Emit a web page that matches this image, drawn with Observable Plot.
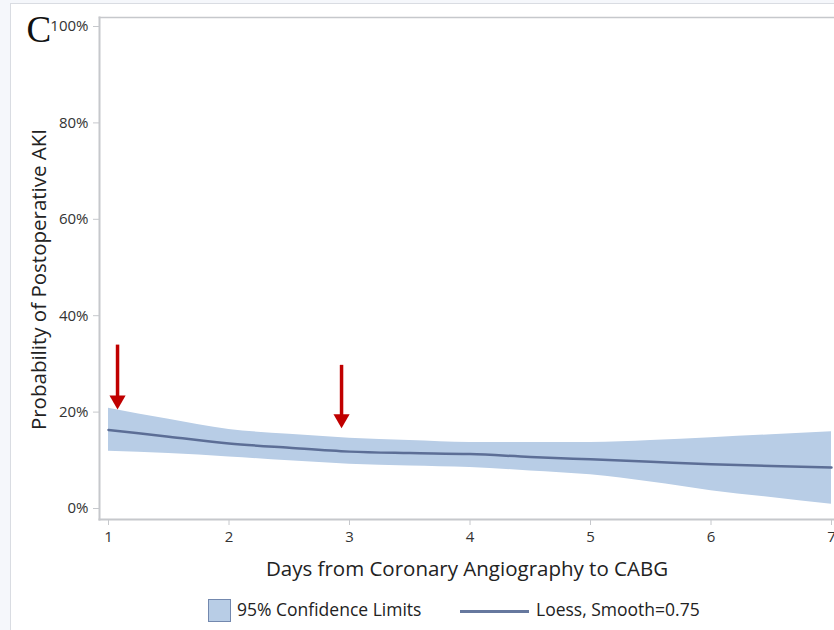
<!DOCTYPE html>
<html>
<head>
<meta charset="utf-8">
<script src="https://cdn.jsdelivr.net/npm/d3@7"></script>
<script src="https://cdn.jsdelivr.net/npm/@observablehq/plot@0.6"></script>
<style>
  html, body { margin: 0; padding: 0; background: #f5f7fb; }
  #page { position: relative; width: 834px; height: 630px; overflow: hidden; font-family: "Open Sans", sans-serif; }
  #panel { position: absolute; left: 10px; top: 3px; width: 840px; height: 640px; background: #fff; border-left: 1px solid #d9dce2; border-top: 1px solid #d9dce2; }
  #chart { position: absolute; left: 0; top: 0; }
  #legend { position: absolute; left: 0; top: 0; width: 834px; height: 630px; pointer-events: none; }
  .sw { position: absolute; left: 208px; top: 599px; width: 21px; height: 21px; background: #b8cde6; border: 1.5px solid #7388ae; }
  .ln { position: absolute; left: 460px; top: 610px; width: 69px; height: 2.5px; background: #66789e; }
  .lt { position: absolute; top: 597px; font-size: 17.5px; color: #222; white-space: nowrap; }
</style>
</head>
<body>
<div id="page">
  <div id="panel"></div>
  <div id="chart"></div>
  <div id="legend">
    <div class="sw"></div><div class="lt" style="left:237px">95% Confidence Limits</div>
    <div class="ln"></div><div class="lt" style="left:536px">Loess, Smooth=0.75</div>
  </div>
</div>
<script>
// Data
const days  = [1, 1.5, 2, 2.5, 3, 3.5, 4, 4.5, 5, 5.5, 6, 6.5, 7];
const loess = [16.3, 14.9, 13.5, 12.6, 11.8, 11.5, 11.3, 10.7, 10.2, 9.7, 9.2, 8.8, 8.5];
const upper = [20.8, 18.5, 16.4, 15.4, 14.6, 14.1, 13.7, 13.7, 13.7, 14.1, 14.7, 15.3, 15.9];
const lower = [11.9, 11.4, 10.7, 9.9, 9.2, 8.8, 8.5, 7.8, 7.0, 5.5, 3.7, 2.3, 0.9];
const xTicks = [1, 2, 3, 4, 5, 6, 7];
const yTicks = [0, 20, 40, 60, 80, 100];
const arrowX = [1.075, 2.934];
const arrowTop = [33.9, 29.7];
const arrowTip = [20.6, 16.7];

const rows = days.map((d, i) => ({day: d, fit: loess[i], hi: upper[i], lo: lower[i]}));
const arrows = arrowX.map((x, i) => ({x, top: arrowTop[i], tip: arrowTip[i]}));

const axisColor = "#c6c8cc";
const chart = Plot.plot({
  width: 834,
  height: 585,
  marginLeft: 99,
  marginRight: 0,
  marginTop: 17,
  marginBottom: 66,
  style: {background: "transparent", fontFamily: "Open Sans, sans-serif", fontSize: "15px", color: "#333"},
  x: {domain: [1, 7], insetLeft: 9, insetRight: 3},
  y: {domain: [0, 100], insetTop: 9, insetBottom: 11},
  marks: [
    Plot.frame({anchor: "left", stroke: axisColor, strokeWidth: 2}),
    Plot.frame({anchor: "bottom", stroke: axisColor, strokeWidth: 2}),
    Plot.frame({anchor: "top", stroke: axisColor, strokeWidth: 1.5}),
    Plot.axisX({ticks: xTicks, tickFormat: d => String(d), tickSize: 6, tickPadding: 6, stroke: axisColor, fill: "#333", label: null}),
    Plot.axisY({ticks: yTicks, tickFormat: d => d + "%", tickSize: 6, tickPadding: 5, stroke: axisColor, fill: "#333", label: null}),
    Plot.areaY(rows, {x: "day", y1: "lo", y2: "hi", fill: "#b8cde6", curve: "monotone-x"}),
    Plot.line(rows, {x: "day", y: "fit", stroke: "#5c6e96", strokeWidth: 2.5, curve: "monotone-x"}),
    Plot.ruleX(arrows, {x: "x", y1: "top", y2: "tip", stroke: "#c00000", strokeWidth: 3.5, insetBottom: 10}),
    Plot.dot(arrows, {x: "x", y: "tip", symbol: "triangle", rotate: 180, r: 6, dy: -9, fill: "#c00000", stroke: "none"}),
    Plot.text(["Probability of Postoperative AKI"], {frameAnchor: "left", textAnchor: "middle", rotate: -90, dx: -60, dy: 11, fontSize: 20.5, fill: "#222"}),
    Plot.text(["Days from Coronary Angiography to CABG"], {frameAnchor: "bottom", textAnchor: "middle", dy: 56, fontSize: 20.5, fill: "#222"}),
    Plot.text(["C"], {frameAnchor: "top-left", textAnchor: "start", lineAnchor: "middle", dx: -73, dy: 13, fontSize: 37, fontFamily: "Liberation Serif, serif", fill: "#111"})
  ]
});
document.getElementById("chart").appendChild(chart);
</script>
</body>
</html>
